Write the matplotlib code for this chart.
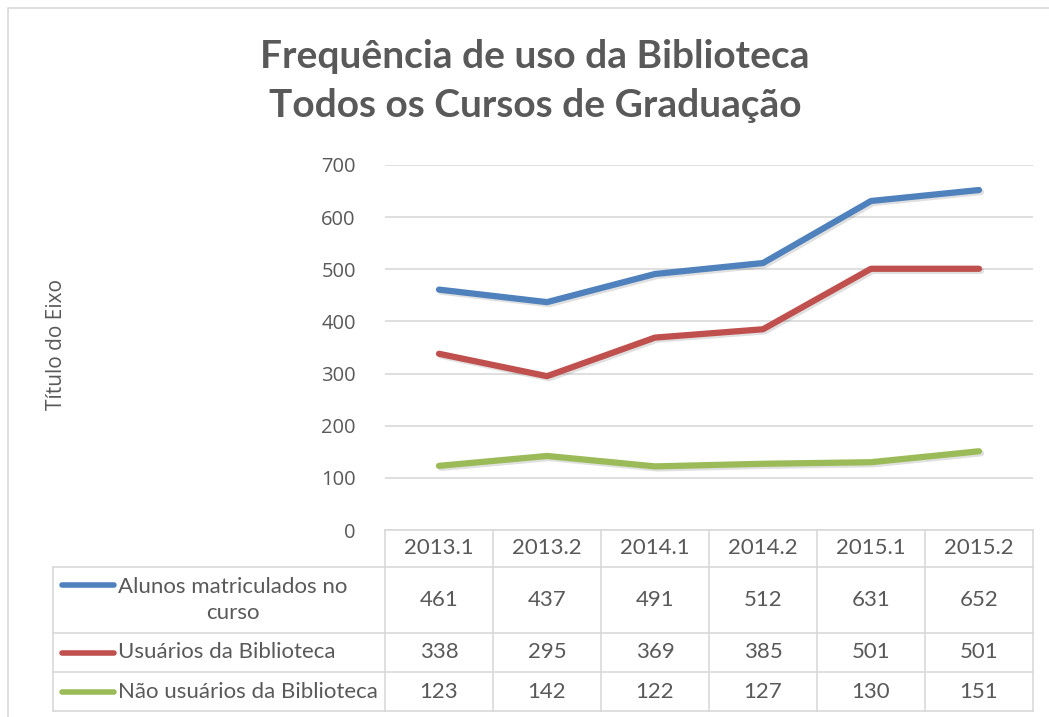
import matplotlib.pyplot as plt
import matplotlib.patheffects as pe
from matplotlib.patches import Rectangle
from matplotlib.lines import Line2D

# data
semestres = ['2013.1', '2013.2', '2014.1', '2014.2', '2015.1', '2015.2']
alunos = [461, 437, 491, 512, 631, 652]
usuarios = [338, 295, 369, 385, 501, 501]
nao_usuarios = [123, 142, 122, 127, 130, 151]
series_nomes = ['Alunos matriculados no\ncurso', 'Usuários da Biblioteca',
                'Não usuários da Biblioteca']
series_cores = ['#4F81BD', '#C0504D', '#9BBB59']
y_ticks = [0, 100, 200, 300, 400, 500, 600, 700]

W, H = 1049, 717
TXT = '#595959'
GRID = '#d9d9d9'

fig = plt.figure(figsize=(W / 100, H / 100), dpi=100)
fig.patch.set_facecolor('white')

# outer chart frame (continues past the right and bottom edge)
fig.add_artist(Rectangle((8 / W, -0.05), 1.1, 1 - 8 / H + 0.05,
                         transform=fig.transFigure, fill=False,
                         edgecolor=GRID, lw=1.2))

fig.text(535 / W, 1 - 81 / H, 'Frequência de uso da Biblioteca\nTodos os Cursos de Graduação',
         ha='center', va='center', fontsize=28, fontweight='bold',
         family='Lato', color=TXT, linespacing=1.5)

# plot area
ax = fig.add_axes([385 / W, 1 - 530 / H, 648 / W, 365 / H])
ax.set_xlim(-0.5, len(semestres) - 0.5)
ax.set_ylim(0, 700)
for s in ax.spines.values():
    s.set_visible(False)
ax.set_xticks([])
ax.set_yticks(y_ticks)
ax.tick_params(axis='y', length=0, pad=21, labelsize=14.5, labelcolor=TXT)
for lab in ax.get_yticklabels():
    lab.set_family('Open Sans')
for t in y_ticks:
    ax.axhline(t, color=GRID, lw=1.2, zorder=1)

x = list(range(len(semestres)))
shadow = [pe.SimpleLineShadow(offset=(1.5, -1.5), shadow_color='black', alpha=0.12),
          pe.Normal()]
for vals, cor in zip([alunos, usuarios, nao_usuarios], series_cores):
    ax.plot(x, vals, color=cor, lw=4.5, solid_capstyle='round',
            solid_joinstyle='round', zorder=3, path_effects=shadow)

fig.text(56 / W, 1 - 345 / H, 'Título do Eixo', rotation=90, ha='center', va='center',
         fontsize=15, family='Open Sans', color=TXT)

# data table below the plot
tab = fig.add_axes([53 / W, 1 - 711 / H, 980 / W, 181 / H])
ppc = 108.0  # pixels per category
x_left = -0.5 - (385 - 53) / ppc
tab.set_xlim(x_left, len(semestres) - 0.5)
tab.set_ylim(711, 530)
tab.axis('off')


def px(p):
    return -0.5 + (p - 385) / ppc


rows = [530, 567, 633, 672, 711]
tab.plot([-0.5, len(semestres) - 0.5], [rows[0], rows[0]], color=GRID, lw=1.2, clip_on=False)
for r in rows[1:]:
    tab.plot([x_left, len(semestres) - 0.5], [r, r], color=GRID, lw=1.2, clip_on=False)
tab.plot([x_left, x_left], [rows[1], rows[-1]], color=GRID, lw=1.2, clip_on=False)
for i in range(len(semestres) + 1):
    tab.plot([i - 0.5, i - 0.5], [rows[0], rows[-1]], color=GRID, lw=1.2, clip_on=False)

for i, s in enumerate(semestres):
    tab.text(i, (rows[0] + rows[1]) / 2, s, ha='center', va='center',
             fontsize=16, family='Lato', color=TXT)

for k, (nome, cor, vals) in enumerate(zip(series_nomes, series_cores,
                                          [alunos, usuarios, nao_usuarios])):
    yc = (rows[k + 1] + rows[k + 2]) / 2
    key_y = yc - 15 if k == 0 else yc
    tab.add_line(Line2D([px(62), px(114)], [key_y, key_y], color=cor, lw=4,
                        solid_capstyle='round', clip_on=False))
    tab.text(px(118), yc, nome, ha='left', va='center', multialignment='center',
             fontsize=16, family='Lato', color=TXT, linespacing=1.35)
    for i, v in enumerate(vals):
        tab.text(i, yc, str(v), ha='center', va='center',
                 fontsize=16, family='Lato', color=TXT)

fig.savefig('out.png', dpi=100)
